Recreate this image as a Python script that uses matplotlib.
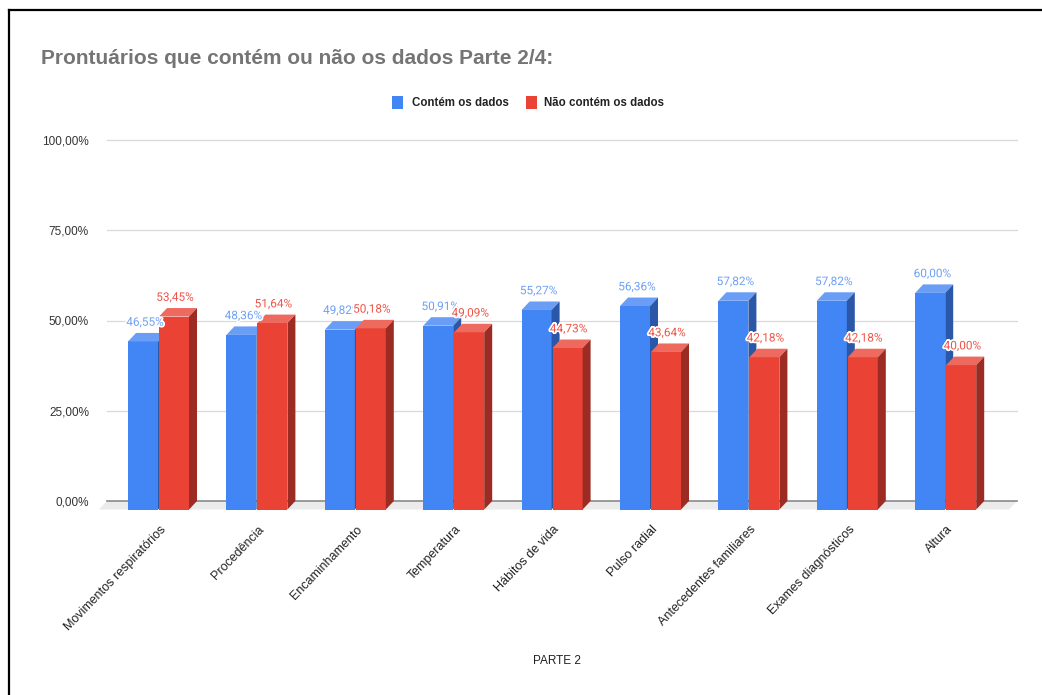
import matplotlib
matplotlib.use("Agg")
import matplotlib.pyplot as plt
import matplotlib.patheffects as pe
from matplotlib.patches import Polygon, Rectangle
from matplotlib.lines import Line2D

# dados do gráfico
categorias = ["Movimentos respiratórios", "Procedência", "Encaminhamento",
              "Temperatura", "Hábitos de vida", "Pulso radial",
              "Antecedentes familiares", "Exames diagnósticos", "Altura"]
contem = [46.55, 48.36, 49.82, 50.91, 55.27, 56.36, 57.82, 57.82, 60.00]
nao_contem = [53.45, 51.64, 50.18, 49.09, 44.73, 43.64, 42.18, 42.18, 40.00]
series = ["Contém os dados", "Não contém os dados"]
ticks_y = [0, 25, 50, 75, 100]

W, H = 1042, 695
fig = plt.figure(figsize=(W / 100, H / 100), dpi=100)

# eixo = plano de fundo do gráfico 3D
esq, dir_, topo, base = 107, 1017, 140, 501
ax = fig.add_axes([esq / W, (H - base) / H, (dir_ - esq) / W, (base - topo) / H])
px_x = 98.4
xmin = (esq - 166.5) / px_x
xmax = (dir_ - 166.5) / px_x
ax.set_xlim(xmin, xmax)
ax.set_ylim(0, 100)
px_y = (base - topo) / 100.0
dx = 8 / px_x
dy = 8.5 / px_y

for s in ax.spines.values():
    s.set_visible(False)
ax.set_xticks([])
ax.set_yticks(ticks_y)
ax.set_yticklabels([f"{t:.2f}".replace(".", ",") + "%" for t in ticks_y],
                   fontsize=8.5, color="#333333", family="Liberation Sans")
ax.tick_params(axis="y", length=0, pad=13)

# chão
chao = Polygon([(xmin, 0), (xmax, 0), (xmax - dx, -dy), (xmin - dx, -dy)],
               closed=True, facecolor="#ebebeb", edgecolor="none", clip_on=False, zorder=1)
ax.add_patch(chao)

for t in ticks_y:
    cor = "#8a8a8a" if t == 0 else "#d9d9d9"
    ax.plot([xmin, xmax], [t, t], color=cor, lw=1.2 if t == 0 else 0.9, zorder=2, clip_on=False)

cores = {
    0: ("#4285f4", "#6a9ef6", "#2b57a8", "#6ea1f5"),
    1: ("#ea4335", "#ee6a5f", "#9b2b23", "#ee5548"),
}


def barra3d(x0, x1, v, c):
    frente, topo_c, lado, _ = c
    ax.add_patch(Rectangle((x0 - dx, -dy), x1 - x0, v, facecolor=frente,
                           edgecolor="none", clip_on=False, zorder=3))
    ax.add_patch(Polygon([(x0 - dx, v - dy), (x1 - dx, v - dy), (x1, v), (x0, v)],
                         closed=True, facecolor=topo_c, edgecolor="none", clip_on=False, zorder=3))
    ax.add_patch(Polygon([(x1 - dx, -dy), (x1, 0), (x1, v), (x1 - dx, v - dy)],
                         closed=True, facecolor=lado, edgecolor="none", clip_on=False, zorder=3))


halo = [pe.withStroke(linewidth=2.5, foreground="white")]
for i in range(len(categorias)):
    barra3d(i - 0.31, i - 0.005, contem[i], cores[0])
    barra3d(i + 0.005, i + 0.31, nao_contem[i], cores[1])

for i in range(len(categorias)):
    ax.text(i - 0.1575 - dx + 2 / px_x, contem[i] + 2.0,
            f"{contem[i]:.2f}".replace(".", ",") + "%", ha="center", va="baseline",
            fontsize=8.5, color=cores[0][3], family="Roboto", zorder=5,
            path_effects=halo, clip_on=False)
    ax.text(i + 0.1575 - dx + 1 / px_x, nao_contem[i] + 2.0,
            f"{nao_contem[i]:.2f}".replace(".", ",") + "%", ha="center", va="baseline",
            fontsize=8.5, color=cores[1][3], family="Roboto", zorder=6,
            path_effects=halo, clip_on=False)
    ax.text(i - dx + 1 / px_x, -dy - 14 / px_y, categorias[i], rotation=46,
            rotation_mode="anchor", ha="right", va="top", fontsize=9,
            color="#222222", family="Liberation Sans", clip_on=False)

# título e legenda
fig.text(41 / W, 1 - 59 / H, "Prontuários que contém ou não os dados Parte 2/4:",
         fontsize=15, fontweight="bold", color="#757575", family="Liberation Sans",
         ha="left", va="center")

for k, (xq, xt) in enumerate([(391.5, 411.5), (525.5, 544.5)]):
    fig.patches.append(Rectangle((xq / W, 1 - 108.5 / H), 11.5 / W, 12.5 / H,
                                 transform=fig.transFigure, facecolor=cores[k][0],
                                 edgecolor="none"))
    fig.text(xt / W, 1 - 102.5 / H, series[k], fontsize=8.3, fontweight="bold",
             color="#222222", family="Liberation Sans", ha="left", va="center")

fig.text(557 / W, 1 - 661 / H, "PARTE 2", fontsize=8.5, color="#222222",
         family="Liberation Sans", ha="center", va="center")

# moldura
fig.add_artist(Line2D([9 / W, 9 / W], [0, 1 - 10 / H], color="black", lw=1.6,
                      transform=fig.transFigure))
fig.add_artist(Line2D([9 / W, 1], [1 - 10 / H, 1 - 10 / H], color="black", lw=1.6,
                      transform=fig.transFigure))

fig.savefig("out.png", dpi=100, facecolor="white")
